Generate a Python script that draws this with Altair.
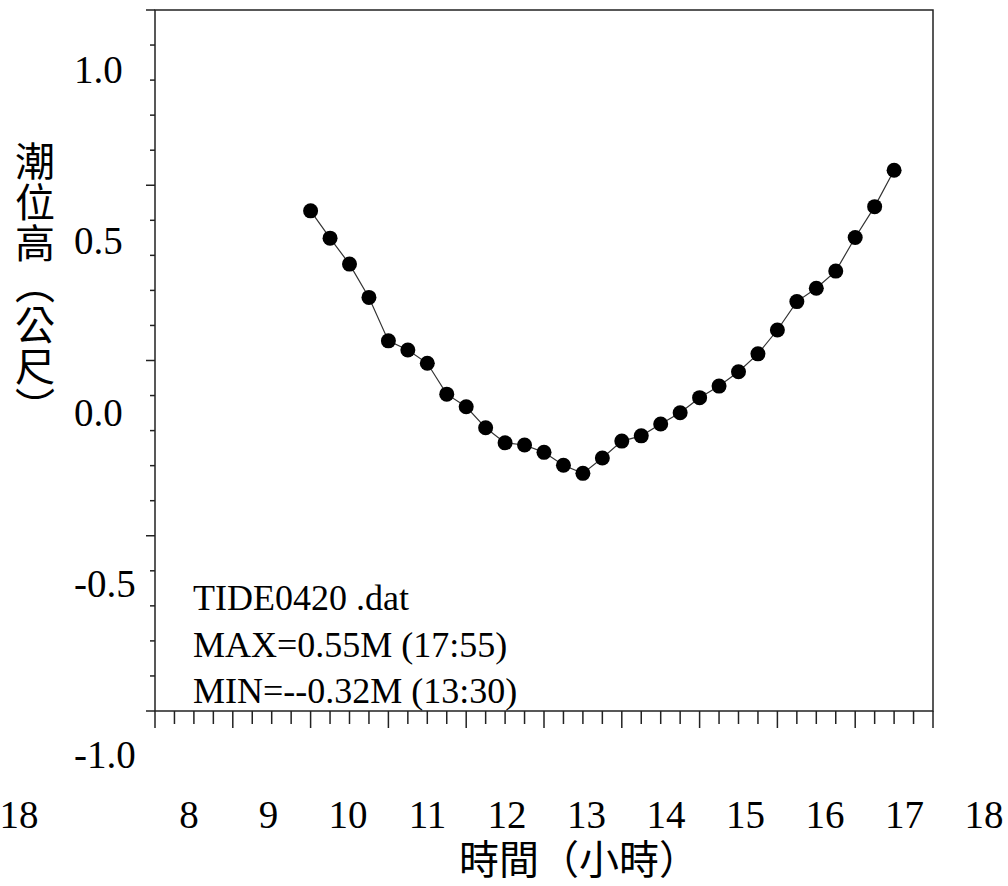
import altair as alt
import pandas as pd

# time of each reading (hours) and tide level (m)
hours = [10.0, 10.25, 10.5, 10.75, 11.0, 11.25, 11.5, 11.75, 12.0, 12.25, 12.5,
         12.75, 13.0, 13.25, 13.5, 13.75, 14.0, 14.25, 14.5, 14.75, 15.0, 15.25,
         15.5, 15.75, 16.0, 16.25, 16.5, 16.75, 17.0, 17.25, 17.5]
tide = [0.427, 0.349, 0.275, 0.180, 0.056, 0.030, -0.008, -0.096, -0.132, -0.192,
        -0.235, -0.241, -0.262, -0.299, -0.322, -0.278, -0.230, -0.215, -0.181,
        -0.149, -0.106, -0.073, -0.032, 0.019, 0.087, 0.168, 0.206, 0.255, 0.351,
        0.439, 0.543]

x_label_hours = [8, 9, 10, 11, 12, 13, 14, 15, 16, 17, 18]
x_minor_ticks = [8 + 0.25 * i for i in range(41) if i % 4 != 0]
y_label_values = [-1.0, -0.5, 0.0, 0.5, 1.0]
y_label_texts = ["-1.0", "-0.5", "0.0", "0.5", "1.0"]
y_minor_ticks = [round(-1 + 0.1 * i, 1) for i in range(21) if i % 5 != 0]

info_lines = "TIDE0420 .dat\nMAX=0.55M (17:55)\nMIN=--0.32M (13:30)"
stray_label = "18"
y_title = "\n".join(["潮", "位", "高", "︵", "公", "尺", "︶"])
x_title = "時間（小時）"

SERIF = "Liberation Serif"
CJK = "Noto Sans CJK TC"
INK = "#222222"
W, H = 778, 701

xscale = alt.Scale(domain=[8, 18], nice=False, zero=False)
yscale = alt.Scale(domain=[-1, 1], nice=False, zero=False)

df = pd.DataFrame({"h": hours, "v": tide})

line = alt.Chart(df).mark_line(color="#333333", strokeWidth=1.2).encode(
    x=alt.X("h:Q", scale=xscale, axis=None),
    y=alt.Y("v:Q", scale=yscale, axis=None),
)
pts = alt.Chart(df).mark_circle(size=225, color="black", opacity=1).encode(
    x=alt.X("h:Q", scale=xscale, axis=None),
    y=alt.Y("v:Q", scale=yscale, axis=None),
)

ymin = alt.Chart(pd.DataFrame({"t": y_minor_ticks})).mark_rule(color=INK, strokeWidth=1.5).encode(
    y=alt.Y("t:Q", scale=yscale, axis=None), x=alt.value(-5), x2=alt.value(0))
ymaj = alt.Chart(pd.DataFrame({"t": y_label_values})).mark_rule(color=INK, strokeWidth=1.5).encode(
    y=alt.Y("t:Q", scale=yscale, axis=None), x=alt.value(-9), x2=alt.value(0))
xmin = alt.Chart(pd.DataFrame({"t": x_minor_ticks})).mark_rule(color=INK, strokeWidth=1.5).encode(
    x=alt.X("t:Q", scale=xscale, axis=None), y=alt.value(H), y2=alt.value(H + 13))
xmaj = alt.Chart(pd.DataFrame({"t": x_label_hours})).mark_rule(color=INK, strokeWidth=1.5).encode(
    x=alt.X("t:Q", scale=xscale, axis=None), y=alt.value(H), y2=alt.value(H + 17))

# tick labels: drawn through the scales, shifted the way the original software shifted them
xlab = alt.Chart(pd.DataFrame({"h": x_label_hours})).transform_calculate(
    pos="datum.h + (34 + 1.7*(datum.h-8))/77.8", lab="format(datum.h, 'd')"
).mark_text(font=SERIF, fontSize=39, align="center", baseline="alphabetic", color="black").encode(
    x=alt.X("pos:Q", scale=xscale, axis=None), y=alt.value(H + 117), text="lab:N")

ylab = alt.Chart(pd.DataFrame({"v": y_label_values, "lab": y_label_texts})).transform_calculate(
    pos="datum.v - (65 + 8*datum.v)/350.5"
).mark_text(font=SERIF, fontSize=39, align="left", baseline="alphabetic", color="black").encode(
    y=alt.Y("pos:Q", scale=yscale, axis=None), x=alt.value(-81), text="lab:N")

xtitle = alt.Chart(pd.DataFrame({"s": [x_title]})).mark_text(
    font=CJK, fontSize=40, align="center", baseline="alphabetic", color="black"
).encode(text="s:N", x=alt.value(424), y=alt.value(H + 163))

ytitle = alt.Chart(pd.DataFrame({"s": [y_title]})).mark_text(
    font=CJK, fontSize=40, align="center", baseline="alphabetic", color="black",
    lineBreak="\n", lineHeight=41,
).encode(text="s:N", x=alt.value(-120), y=alt.value(166))

info = alt.Chart(pd.DataFrame({"s": [info_lines]})).mark_text(
    font=SERIF, fontSize=36, align="left", baseline="alphabetic",
    lineBreak="\n", lineHeight=46.5, color="black",
).encode(text="s:N", x=alt.value(38), y=alt.value(600))

stray = alt.Chart(pd.DataFrame({"s": [stray_label]})).mark_text(
    font=SERIF, fontSize=39, align="center", baseline="alphabetic", color="black",
).encode(text="s:N", x=alt.value(-136), y=alt.value(H + 117))

chart = alt.layer(
    line, pts, ymin, ymaj, xmin, xmaj, xlab, ylab, xtitle, ytitle, info, stray
).properties(
    width=W, height=H,
    padding={"left": 155, "top": 10, "right": 75, "bottom": 175},
    autosize=alt.AutoSizeParams(type="none"),
    background="white",
).configure_view(stroke=INK, strokeWidth=1.5)

chart.save("out.html", embed_options={"renderer": "svg", "actions": False})
